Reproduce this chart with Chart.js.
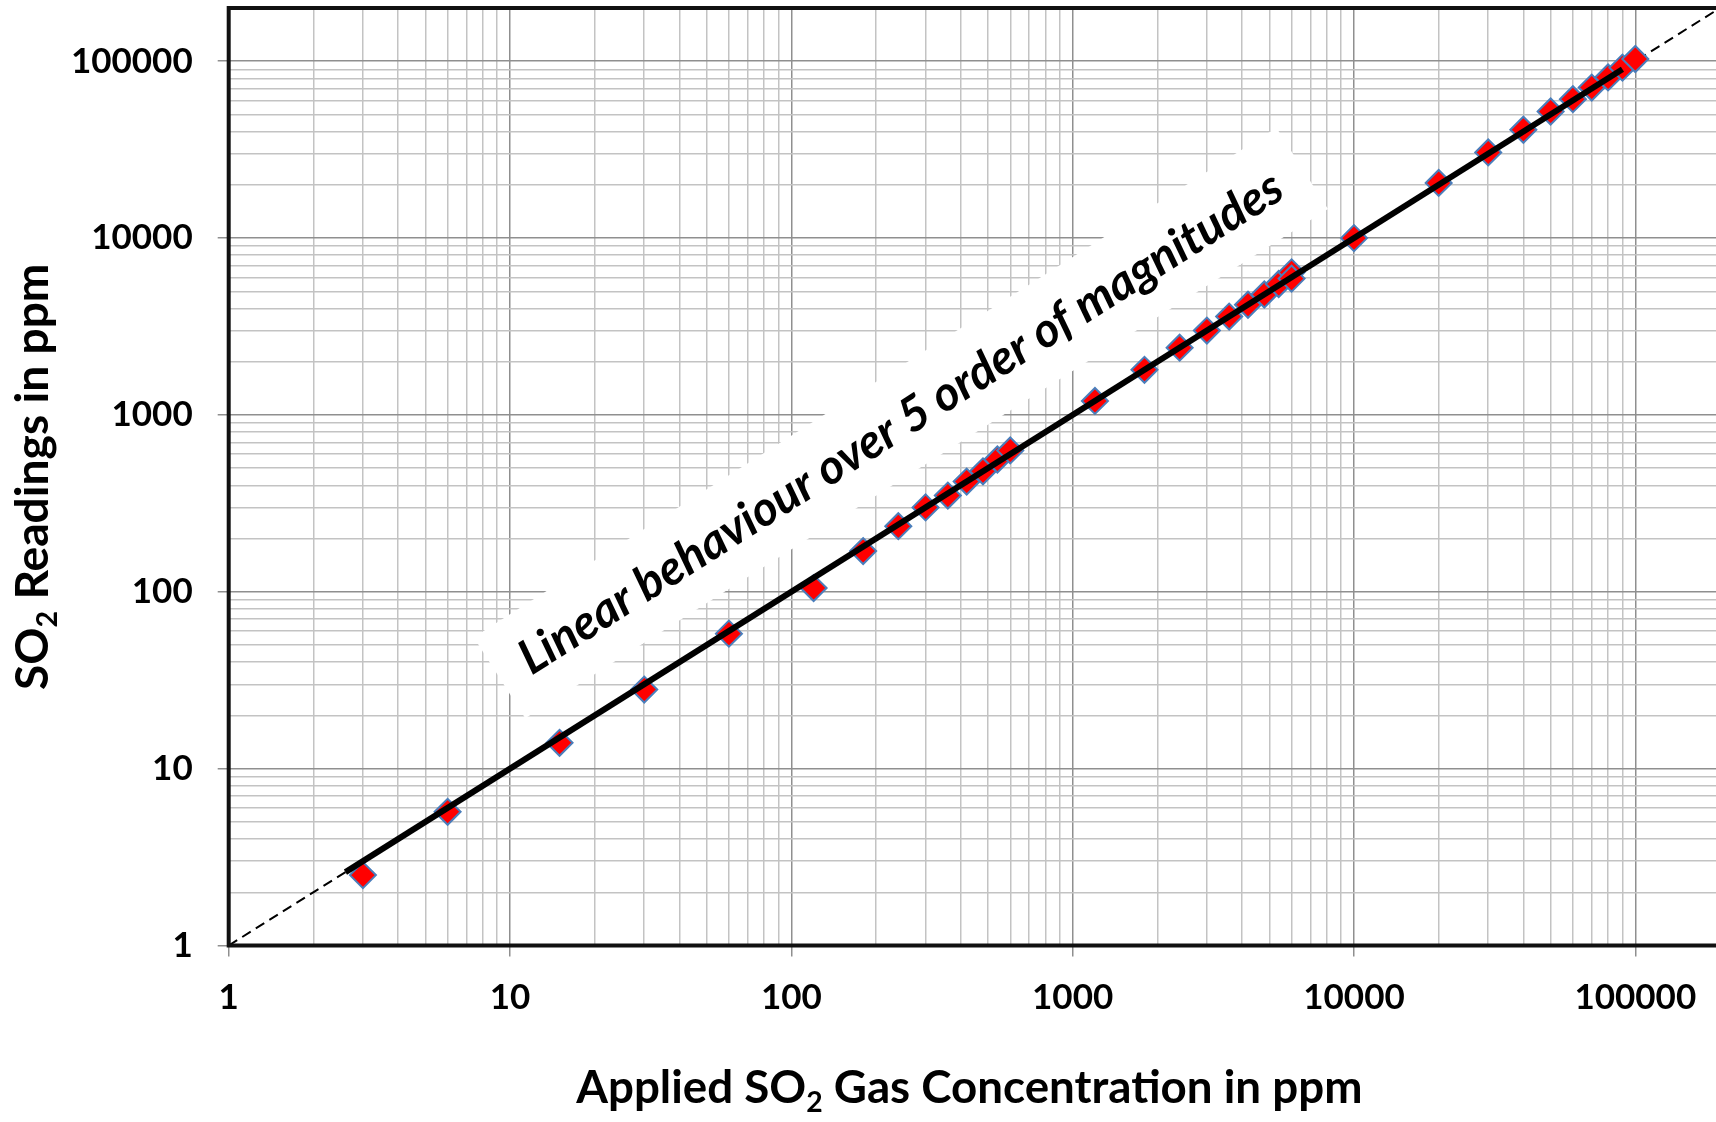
<!DOCTYPE html>
<html>
<head>
<meta charset="utf-8">
<title>SO2 sensor linearity</title>
<script src="https://cdn.jsdelivr.net/npm/chart.js@4.4.1/dist/chart.umd.min.js"></script>
<style>
  html, body { margin: 0; padding: 0; background: #fff; overflow: hidden; }
  #wrap { width: 1716px; height: 1122px; overflow: hidden; position: relative; }
  #wrap canvas { position: absolute; left: 0; top: 0; }
</style>
</head>
<body>
<div id="wrap"><canvas id="c" width="1740" height="1122"></canvas></div>
<script>
// log axes: decades carry labels, 2..9 only grid lines
const decades = [1, 10, 100, 1000, 10000, 100000];
const minorSteps = [1, 2, 3, 4, 5, 6, 7, 8, 9];
const axisMin = 1;
const axisMax = 200000;

// applied gas (ppm) vs sensor reading (ppm)
const applied = [3, 6, 15, 30, 60, 120, 180, 240, 300, 360, 420, 480, 540, 600,
  1200, 1800, 2400, 3000, 3600, 4200, 4800, 5400, 6000, 6000,
  10000, 20000, 30000, 40000, 50000, 60000, 70000, 80000, 90000, 100000];
const readings = [2.5, 5.7, 14, 28, 58, 105, 170, 235, 300, 350, 420, 480, 560, 630,
  1200, 1800, 2400, 3000, 3600, 4200, 4800, 5500, 6400, 5900,
  10000, 20500, 30500, 41000, 52000, 61000, 71000, 81000, 92000, 103000];

// fitted line and the 1:1 reference
const fitX = [2.6, 90000];
const fitY = [2.6, 90000];
const refX = [1, 200000];
const refY = [1, 200000];

const noteText = 'Linear behaviour over 5 order of magnitudes';
const noteAt = { x: 245, y: 900 };

const gridValues = decades.flatMap(d => minorSteps.map(m => m * d)).concat([axisMax]);
const isDecade = v => decades.includes(v);

const FONT = 'Lato, "Open Sans", sans-serif';

function fitFont(ctx, text, style, target) {
  ctx.font = style + ' 40px ' + FONT;
  return 40 * target / ctx.measureText(text).width;
}

// text with a subscript piece: parts = [[text, isSub], ...]
function drawSub(ctx, parts, cx, baseY, size) {
  const widths = parts.map(([t, sub]) => {
    ctx.font = 'bold ' + (sub ? size * 0.62 : size) + 'px ' + FONT;
    return ctx.measureText(t).width;
  });
  let x = cx - widths.reduce((a, b) => a + b, 0) / 2;
  ctx.textAlign = 'left';
  ctx.textBaseline = 'alphabetic';
  parts.forEach(([t, sub], i) => {
    ctx.font = 'bold ' + (sub ? size * 0.62 : size) + 'px ' + FONT;
    ctx.fillText(t, x, baseY + (sub ? size * 0.2 : 0));
    x += widths[i];
  });
}

const decor = {
  id: 'decor',
  beforeDatasetsDraw(chart) {
    const { ctx, scales: { x, y } } = chart;
    const cx = x.getPixelForValue(noteAt.x);
    const cy = y.getPixelForValue(noteAt.y);
    ctx.save();
    ctx.translate(cx, cy);
    ctx.rotate(-32.4 * Math.PI / 180);
    const size = fitFont(ctx, noteText, 'italic bold', 895);
    ctx.font = 'italic bold ' + size + 'px ' + FONT;
    const w = ctx.measureText(noteText).width;
    ctx.fillStyle = '#ffffff';
    ctx.fillRect(-w / 2 - 28, -size * 1.0, w + 56, size * 2.0);
    ctx.fillStyle = '#000';
    ctx.textAlign = 'center';
    ctx.textBaseline = 'middle';
    ctx.fillText(noteText, 0, 0);
    ctx.restore();
  },
  afterDraw(chart) {
    const { ctx, chartArea: a } = chart;
    ctx.save();
    ctx.strokeStyle = '#111';
    ctx.lineWidth = 4;
    ctx.strokeRect(a.left, a.top, a.right - a.left, a.bottom - a.top);

    ctx.fillStyle = '#000';
    const xParts = [['Applied SO', false], ['2', true], [' Gas Concentration in ppm', false]];
    const xs = fitFont(ctx, 'Applied SO Gas Concentration in ppm', 'bold', 770);
    drawSub(ctx, xParts, (a.left + a.right) / 2 - 5, 1103, xs);

    const yParts = [['SO', false], ['2', true], [' Readings in ppm', false]];
    const ys = fitFont(ctx, 'SO Readings in ppm', 'bold', 410);
    ctx.translate(48, (a.top + a.bottom) / 2);
    ctx.rotate(-Math.PI / 2);
    drawSub(ctx, yParts, 0, 0, ys);
    ctx.restore();
  }
};

function logAxis(extra) {
  return Object.assign({
    type: 'logarithmic',
    min: axisMin,
    max: axisMax,
    afterBuildTicks: axis => {
      axis.ticks = gridValues.map(v => ({ value: v, major: isDecade(v) }));
    },
    grid: {
      color: c => isDecade(c.tick && c.tick.value) ? '#8f8f8f' : '#c3c3c3',
      lineWidth: 1.5,
      drawTicks: true,
      tickLength: 11,
      tickColor: c => isDecade(c.tick && c.tick.value) ? '#8f8f8f' : 'rgba(0,0,0,0)'
    },
    border: { display: false },
    title: { display: false }
  }, extra);
}

new Chart(document.getElementById('c'), {
  type: 'scatter',
  data: {
    datasets: [
      {
        label: 'Fit',
        data: fitX.map((v, i) => ({ x: v, y: fitY[i] })),
        showLine: true,
        borderColor: '#000',
        borderWidth: 6,
        pointRadius: 0,
        order: 1
      },
      {
        label: 'Readings',
        data: applied.map((v, i) => ({ x: v, y: readings[i] })),
        pointStyle: 'rectRot',
        pointRadius: 13,
        backgroundColor: '#ff0000',
        borderColor: '#4a7ebb',
        borderWidth: 2,
        order: 2
      },
      {
        label: '1:1',
        data: refX.map((v, i) => ({ x: v, y: refY[i] })),
        showLine: true,
        borderColor: '#000',
        borderWidth: 2,
        borderDash: [10, 6],
        pointRadius: 0,
        order: 3
      }
    ]
  },
  options: {
    responsive: false,
    animation: false,
    devicePixelRatio: 1,
    layout: { autoPadding: false, padding: { left: 0, top: 8, right: 20, bottom: 0 } },
    plugins: { legend: { display: false }, tooltip: { enabled: false } },
    scales: {
      x: logAxis({
        position: 'bottom',
        afterFit: s => {
          s.height = 176.5;
          s.paddingLeft = 0; s.paddingRight = 0; s.paddingTop = 0; s.paddingBottom = 0;
        },
        ticks: {
          autoSkip: false, maxRotation: 0, color: '#000', padding: 20,
          font: { family: FONT, weight: 'bold', size: 35 },
          callback: v => isDecade(v) ? String(v) : ''
        }
      }),
      y: logAxis({
        position: 'left',
        afterFit: s => {
          s.width = 228.7;
          s.paddingLeft = 0; s.paddingRight = 0; s.paddingTop = 0; s.paddingBottom = 0;
        },
        ticks: {
          autoSkip: false, color: '#000', padding: 25,
          font: { family: FONT, weight: 'bold', size: 35 },
          callback: v => isDecade(v) ? String(v) : ''
        }
      })
    }
  },
  plugins: [decor]
});
</script>
</body>
</html>
